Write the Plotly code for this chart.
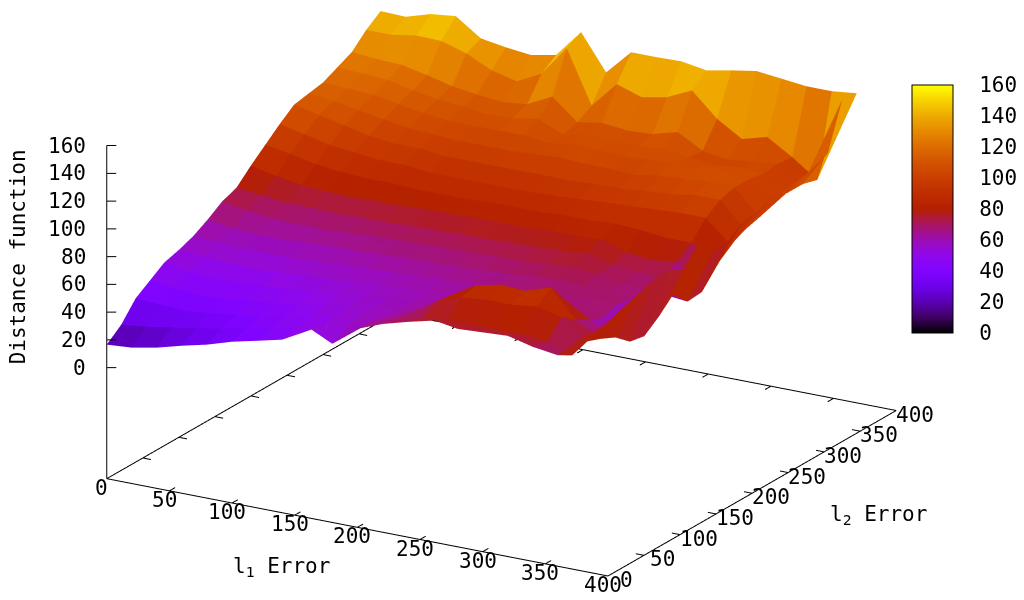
import plotly.graph_objects as go

l1_error = [20 * n for n in range(20)]
l2_error = [20 * n for n in range(20)]
tick_values = [0, 50, 100, 150, 200, 250, 300, 350, 400]
z_ticks = [0, 20, 40, 60, 80, 100, 120, 140, 160]

row00 = [16.6, 17.9, 21.4, 26.3, 30.6, 36.2, 40.4, 44.7, 57.5, 48.7, 63, 70, 75, 80, 77, 78, 79, 74.6, 72, 88.6]
row01 = [25, 27, 30, 33, 36, 40, 44, 48, 52, 56, 62, 68, 72, 74, 74, 74, 74, 72, 66, 87.7]
row02 = [38, 37, 36, 38, 40, 43, 46, 50, 54, 57, 60, 66, 78, 84, 86, 86, 88, 84, 70, 89.7]
row03 = [45, 43, 41, 42, 44, 46, 49, 52, 55, 58, 60, 63, 74, 87, 91, 90, 96, 76, 66, 94]
row04 = [52, 49, 47, 48, 49, 50, 52, 54, 56, 58, 60, 62, 64, 72, 72, 68, 72, 70, 61, 97]
row05 = [55, 54, 52, 52, 53, 54, 55, 56, 58, 59, 61, 62, 63, 64, 66, 66, 68, 66, 52, 101]
row06 = [59, 58, 57, 57, 57, 58, 59, 60, 61, 62, 63, 64, 65, 66, 67, 68, 70, 70, 50, 101]
row07 = [65, 62, 61, 61, 62, 63, 63, 64, 65, 65, 66, 67, 68, 70, 71, 70, 68, 68, 58, 96]
row08 = [72, 69, 67, 66, 66, 67, 68, 69, 69, 70, 70, 71, 71, 73, 74, 72, 69, 68, 68, 107.6]
row09 = [76, 74, 72, 72, 71, 72, 72, 73, 73, 74, 74, 75, 75, 76, 78, 73, 72, 70, 57, 96]
row10 = [86, 82, 79, 78, 77, 78, 78, 79, 79, 80, 80, 80, 81, 81, 82, 76, 74, 76, 58, 97]
row11 = [95, 92, 88, 86, 85, 85, 84, 84, 84, 85, 85, 85, 86, 86, 87, 86, 84, 84, 71, 105]
row12 = [104, 100, 96, 94, 92, 92, 90, 90, 90, 90, 90, 91, 92, 93, 94, 95, 96, 96, 80, 107]
row13 = [112, 108, 104, 100, 98, 98, 96, 96, 96, 96, 96, 96, 97, 97, 99, 100, 103, 103, 85, 110]
row14 = [114, 112, 109, 106, 103, 102, 101, 101, 101, 102, 103, 102, 102, 101, 104, 105, 107, 106, 88, 110]
row15 = [116, 115, 114, 111, 108, 106, 106, 106, 106, 104, 107, 106, 105, 106, 107, 107, 108, 106, 95, 111]
row16 = [121, 120, 119, 115, 112, 110, 108, 109, 112, 104, 108, 106, 106, 108, 105, 103, 105, 104, 94, 115]
row17 = [126, 124.5, 123.7, 120, 115.5, 113, 111, 113, 122, 107, 110, 108, 109, 114, 104, 101, 103, 105, 94, 120]
row18 = [136, 136, 139, 138.5, 133, 124.5, 120, 129, 151, 113, 132, 126, 129.6, 138, 121, 110, 115, 104, 91, 152.6]
row19 = [143.6, 143, 148.5, 150.5, 138, 135, 133, 136.5, 156.5, 131, 149, 149, 149.5, 146.5, 150, 153, 151, 149, 149, 151]
distance = [row00, row01, row02, row03, row04, row05, row06, row07, row08, row09,
            row10, row11, row12, row13, row14, row15, row16, row17, row18, row19]

palette = [[0, "rgb(0,0,0)"], [0.0625, "rgb(64,0,98)"], [0.125, "rgb(90,0,180)"], [0.1875, "rgb(110,2,236)"],
           [0.25, "rgb(128,4,255)"], [0.3125, "rgb(143,8,236)"], [0.375, "rgb(156,13,180)"], [0.4375, "rgb(169,21,98)"],
           [0.5, "rgb(180,32,0)"], [0.5625, "rgb(191,45,0)"], [0.625, "rgb(202,62,0)"], [0.6875, "rgb(211,83,0)"],
           [0.75, "rgb(221,108,0)"], [0.8125, "rgb(230,137,0)"], [0.875, "rgb(238,171,0)"], [0.9375, "rgb(247,210,0)"],
           [1, "rgb(255,255,0)"]]

nx, ny = len(l1_error), len(l2_error)
vx, vy, vz, ti, tj, tk, cell = [], [], [], [], [], [], []
for b in range(ny):
    for a in range(nx):
        vx.append(l1_error[a]); vy.append(l2_error[b]); vz.append(distance[b][a])
for b in range(ny - 1):
    for a in range(nx - 1):
        p = b * nx + a
        mean = (distance[b][a] + distance[b][a + 1] + distance[b + 1][a] + distance[b + 1][a + 1]) / 4
        ti += [p, p]; tj += [p + 1, p + nx + 1]; tk += [p + nx + 1, p + nx]
        cell += [mean, mean]

mono = "DejaVu Sans Mono"
X_MAX, Y_MAX, Z_BASE, Z_TOP = 400, 400, -80, 160

fig = go.Figure(go.Mesh3d(
    x=vx, y=vy, z=vz, i=ti, j=tj, k=tk, intensity=cell, intensitymode="cell",
    colorscale=palette, cmin=0, cmax=160, flatshading=True,
    lighting=dict(ambient=1, diffuse=0, specular=0, roughness=1, fresnel=0),
    hoverinfo="skip",
    colorbar=dict(x=912 / 1024, xanchor="left", xpad=0, y=1 - 85 / 600, yanchor="top", ypad=0,
                  lenmode="pixels", len=248, thicknessmode="pixels", thickness=41,
                  tickvals=z_ticks, ticks="outside", ticklen=22, tickcolor="rgba(0,0,0,0)",
                  outlinecolor="black", outlinewidth=1,
                  tickfont=dict(family=mono, size=21, color="black")),
))

# axes frame and tick marks, placed in data coordinates from the tick lists
lx, ly, lz = [], [], []
def seg(a, b):
    lx.extend([a[0], b[0], None]); ly.extend([a[1], b[1], None]); lz.extend([a[2], b[2], None])
seg((0, 0, Z_BASE), (X_MAX, 0, Z_BASE))
seg((X_MAX, 0, Z_BASE), (X_MAX, Y_MAX, Z_BASE))
seg((X_MAX, Y_MAX, Z_BASE), (0, Y_MAX, Z_BASE))
seg((0, Y_MAX, Z_BASE), (0, 0, Z_BASE))
seg((0, 0, Z_BASE), (0, 0, Z_TOP))
for t in tick_values[1:-1]:
    seg((t, 0, Z_BASE), (t, 8, Z_BASE))
    seg((t, Y_MAX, Z_BASE), (t, Y_MAX - 8, Z_BASE))
    seg((X_MAX, t, Z_BASE), (X_MAX - 6.5, t, Z_BASE))
    seg((0, t, Z_BASE), (6.5, t, Z_BASE))
for t in z_ticks:
    seg((0, 0, t), (5.7, 3.3, t))
fig.add_trace(go.Scatter3d(x=lx, y=ly, z=lz, mode="lines", line=dict(color="black", width=2),
                           hoverinfo="skip", showlegend=False))

def axis(rng):
    return dict(range=rng, title=dict(text=""), showticklabels=False, ticks="",
                showbackground=False, showgrid=False, zeroline=False, showspikes=False, showline=False)

notes = [
    dict(x=200, y=0, z=Z_BASE, text="l<sub>1</sub> Error", showarrow=False, xanchor="center", yanchor="middle", xshift=-76, yshift=-40),
    dict(x=X_MAX, y=200, z=Z_BASE, text="l<sub>2</sub> Error", showarrow=False, xanchor="center", yanchor="middle", xshift=126, yshift=-22),
    dict(x=0, y=0, z=80, text="Distance function", textangle=-90, showarrow=False, xanchor="center", yanchor="middle", xshift=-89),
]
for t in tick_values:
    notes.append(dict(x=t, y=0, z=Z_BASE, text=str(t), showarrow=False, xanchor="center", yanchor="middle", xshift=-5, yshift=-9))
    notes.append(dict(x=X_MAX, y=t, z=Z_BASE, text=str(t), showarrow=False, xanchor="center", yanchor="middle", xshift=18.5, yshift=-4))
for t in z_ticks:
    notes.append(dict(x=0, y=0, z=t, text=str(t), showarrow=False, xanchor="right", yanchor="middle", xshift=-19))

center = (0.0425, -0.0034, -0.0691)
view = (0.474, -0.815, 0.334)
dist = 2.0
PAD = 1.01
fig.update_layout(
    width=1024, height=600, margin=dict(l=0, r=0, t=0, b=0), paper_bgcolor="white",
    font=dict(family=mono, size=21, color="black"), showlegend=False,
    scene=dict(
        domain=dict(x=[0, 1], y=[0, 1]),
        xaxis=axis([-2, X_MAX + 2]), yaxis=axis([-2, Y_MAX + 2]), zaxis=axis([Z_BASE - 1.2, Z_TOP + 1.2]),
        aspectmode="manual", aspectratio=dict(x=1.96 * 0.986 * PAD, y=1.96 * 0.975 * PAD, z=1.196 * 0.985 * PAD),
        camera=dict(projection=dict(type="orthographic"), up=dict(x=0, y=0, z=1),
                    center=dict(x=center[0], y=center[1], z=center[2]),
                    eye=dict(x=center[0] + view[0] * dist, y=center[1] + view[1] * dist, z=center[2] + view[2] * dist)),
        annotations=notes,
    ),
)
fig.write_html("out.html", post_script="document.body.style.margin='0';", config={"displayModeBar": False})
